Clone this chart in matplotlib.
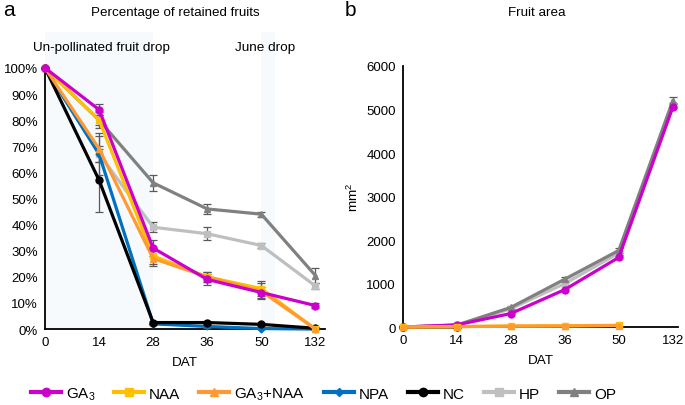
import numpy as np
import matplotlib.pyplot as plt

plt.rcParams['font.family'] = ['Liberation Sans', 'DejaVu Sans']
plt.rcParams['mathtext.fontset'] = 'custom'
plt.rcParams['mathtext.rm'] = 'Liberation Sans'
plt.rcParams['mathtext.it'] = 'Liberation Sans'

# categories (days after treatment)
dat = ['0', '14', '28', '36', '50', '132']
names = ['GA$_3$', 'NAA', 'GA$_3$+NAA', 'NPA', 'NC', 'HP', 'OP']
colors = ['#CC00CC', '#FFC000', '#FF9933', '#0070C0', '#000000', '#BFBFBF', '#808080']
markers = ['o', 's', '^', 'D', 'o', 's', '^']

# percentage of retained fruits (%)
ret_ga3 = [100, 84, 31, 19, 14, 9]
ret_naa = [100, 80, 28, 20, 15.5, 0]
ret_gan = [100, 69, 27, 20, 14.5, 0]
ret_npa = [100, 67, 2, 1, 0.2, 0]
ret_nc = [100, 57, 2.5, 2.5, 1.8, 0.3]
ret_hp = [100, 67, 39, 36.5, 32, 16.5]
ret_op = [100, 80, 56, 46, 44, 20.5]
err_ga3 = [0, 2, 3, 2, 2, 1]
err_naa = [0, 3, 3, 2, 3, 0]
err_gan = [0, 5, 3, 2, 3, 0]
err_npa = [0, 8, 0.5, 0.5, 0.3, 0]
err_nc = [0, 12, 0.5, 0.5, 0.5, 0.3]
err_hp = [0, 3, 2, 2.5, 1, 1]
err_op = [0, 2, 3, 2, 1, 3]

# fruit area (mm2)
area_ga3 = [0, 50, 310, 860, 1600, 5050]
area_naa = [0, 10, 25, 30, 40, np.nan]
area_gan = [0, 10, 20, 25, 35, np.nan]
area_npa = [0, 5, np.nan, np.nan, np.nan, np.nan]
area_nc = [0, 5, np.nan, np.nan, np.nan, np.nan]
area_hp = [0, 40, 420, 1000, 1700, 5100]
area_op = [0, 45, 450, 1100, 1760, 5200]
aerr_hp = [0, 5, 30, 40, 50, 60]
aerr_op = [0, 5, 30, 40, 50, 80]

retained = [ret_ga3, ret_naa, ret_gan, ret_npa, ret_nc, ret_hp, ret_op]
ret_err = [err_ga3, err_naa, err_gan, err_npa, err_nc, err_hp, err_op]
area = [area_ga3, area_naa, area_gan, area_npa, area_nc, area_hp, area_op]
area_err = [None, None, None, None, None, aerr_hp, aerr_op]

x = np.arange(len(dat))
fig = plt.figure(figsize=(6.85, 4.06), dpi=100)
ax1 = fig.add_axes([0.0657, 0.187, 0.409, 0.732])
ax2 = fig.add_axes([0.588, 0.192, 0.402, 0.643])

# left panel: retained fruits
ax1.axvspan(0, 2, color='#F7FAFD', zorder=0, lw=0)
ax1.axvspan(4, 4.26, color='#F7FAFD', zorder=0, lw=0)
order = [5, 6, 3, 4, 1, 2, 0]
for i in order:
    y = np.array(retained[i]) / 100
    e = np.array(ret_err[i]) / 100
    ax1.errorbar(x, y, yerr=e, color=colors[i], marker=markers[i],
                 ms=5 if markers[i] != 'D' else 3.5, lw=2.3,
                 ecolor='#595959', elinewidth=0.9, capsize=3, capthick=0.9,
                 zorder=3, clip_on=False)
ax1.set_xlim(0, 5.18)
ax1.set_ylim(0, 1.138)
ax1.set_yticks(np.arange(0, 1.01, 0.1))
ax1.set_yticklabels([f'{v}%' for v in range(0, 101, 10)])
ax1.spines['left'].set_bounds(0, 1)
ax1.text(1.05, 1.08, 'Un-pollinated fruit drop', ha='center', va='center', fontsize=9.7)
ax1.text(4.07, 1.08, 'June drop', ha='center', va='center', fontsize=9.7)

# right panel: fruit area
for i in [5, 6, 3, 4, 0, 1, 2]:
    ax2.errorbar(x, area[i], yerr=area_err[i], color=colors[i], marker=markers[i],
                 ms=5 if markers[i] != 'D' else 3.5, lw=2.3,
                 ecolor='#595959', elinewidth=0.9, capsize=3, capthick=0.9,
                 zorder=3, clip_on=False)
ax2.set_xlim(0, 5.1)
ax2.set_ylim(0, 6000)
ax2.set_yticks(range(0, 6001, 1000))
ax2.set_ylabel('mm$^2$', fontsize=9.7, labelpad=4)

for ax in (ax1, ax2):
    ax.set_xticks(x)
    ax.set_xticklabels(dat)
    ax.set_xlabel('DAT', fontsize=9.7, labelpad=6)
    ax.tick_params(length=0, labelsize=9.5, pad=5)
    ax.spines['top'].set_visible(False)
    ax.spines['right'].set_visible(False)
    ax.spines['left'].set_linewidth(1.3)
    ax.spines['bottom'].set_linewidth(1.3)
    ax.patch.set_alpha(0)

fig.text(0.256, 0.968, 'Percentage of retained fruits', ha='center', va='center', fontsize=9.6)
fig.text(0.784, 0.968, 'Fruit area', ha='center', va='center', fontsize=9.6)
fig.text(0.005, 0.975, 'a', ha='left', va='center', fontsize=15)
fig.text(0.503, 0.975, 'b', ha='left', va='center', fontsize=15)

handles = [plt.Line2D([], [], color=colors[i], marker=markers[i], lw=3,
                      ms=6 if markers[i] != 'D' else 4) for i in range(len(names))]
fig.legend(handles, names, loc='center', bbox_to_anchor=(0.472, 0.027), ncol=7,
           frameon=False, fontsize=11, handlelength=1.96, handletextpad=0.33,
           columnspacing=1.24)

fig.savefig('out.png', dpi=100)
